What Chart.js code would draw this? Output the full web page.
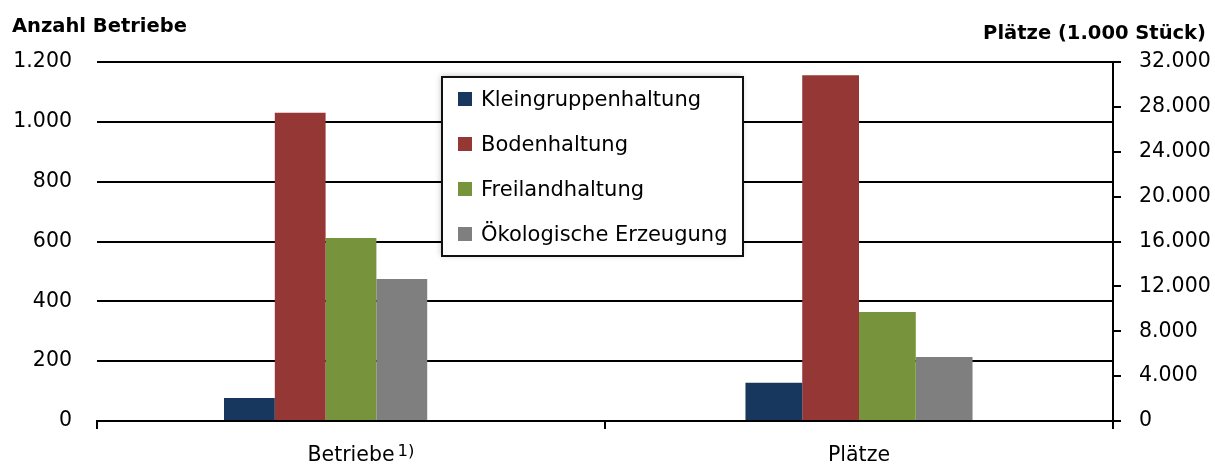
<!DOCTYPE html>
<html lang="de">
<head>
<meta charset="utf-8">
<title>Betriebe und Plätze nach Haltungsform</title>
<script src="https://cdn.jsdelivr.net/npm/chart.js@4.4.1/dist/chart.umd.min.js"></script>
<style>
  html, body { margin: 0; padding: 0; background: #fff; }
  #wrap { width: 1215px; height: 465px; position: relative; }
</style>
</head>
<body>
<div id="wrap"><canvas id="chart"></canvas></div>
<script>
// Daten
const kategorien = ['Betriebe', 'Plätze'];
const serien = ['Kleingruppenhaltung', 'Bodenhaltung', 'Freilandhaltung', 'Ökologische Erzeugung'];
const betriebe = [77, 1030, 612, 475];          // Anzahl Betriebe (linke Achse)
const plaetze = [3410, 30830, 9720, 5700];      // Plätze in 1.000 Stück (rechte Achse)
const farben = ['#17375E', '#953735', '#77933C', '#7F7F7F'];

const schrift = '"DejaVu Sans", Verdana, sans-serif';

function punkt(v) {
  return String(v).replace(/\B(?=(\d{3})+(?!\d))/g, '.');
}

// linke Serien nur bei "Betriebe", rechte nur bei "Plätze"
const datasets = [];
serien.forEach((s, i) => {
  datasets.push({
    label: s,
    data: [betriebe[i], null],
    backgroundColor: farben[i],
    yAxisID: 'y',
    categoryPercentage: 0.5,
    barPercentage: 1.0,
    skipNull: true
  });
});
// leerer Platz rechts neben der Betriebe-Gruppe (wie im Original)
datasets.push({
  label: '',
  data: [0, null],
  backgroundColor: 'rgba(0,0,0,0)',
  yAxisID: 'y',
  categoryPercentage: 0.5,
  barPercentage: 1.0,
  skipNull: true
});
serien.forEach((s, i) => {
  datasets.push({
    label: s + ' (Plätze)',
    data: [null, plaetze[i]],
    backgroundColor: farben[i],
    yAxisID: 'y1',
    categoryPercentage: 0.447,
    barPercentage: 1.0,
    skipNull: true
  });
});

// Achsentitel, Fußnotenzeichen und Legendenkasten
const extras = {
  id: 'extras',
  afterDraw(chart) {
    const c = chart.ctx;
    const a = chart.chartArea;
    c.save();
    c.fillStyle = '#000';
    c.textBaseline = 'alphabetic';
    c.font = 'bold 19.5px ' + schrift;
    c.textAlign = 'left';
    c.fillText('Anzahl Betriebe', 12, 32);
    c.textAlign = 'right';
    c.fillText('Plätze (1.000 Stück)', 1206, 39);

    // Fußnote an "Betriebe"
    const xs = chart.scales.x;
    c.font = '20.5px ' + schrift;
    const w = c.measureText(kategorien[0]).width;
    const px = xs.getPixelForValue(0) + w / 2 + 3;
    c.font = '16.5px ' + schrift;
    c.textAlign = 'left';
    c.fillText('1)', px, 456);

    // Legende
    const lx = a.left + 345, ly = a.top + 15, lw = 301, lh = 179;
    c.shadowColor = 'rgba(0,0,0,0.25)';
    c.shadowBlur = 6;
    c.shadowOffsetX = -1;
    c.shadowOffsetY = -1;
    c.fillStyle = '#fff';
    c.fillRect(lx, ly, lw, lh);
    c.shadowColor = 'transparent';
    c.strokeStyle = '#111';
    c.lineWidth = 2;
    c.strokeRect(lx, ly, lw, lh);
    c.font = '21px ' + schrift;
    c.textBaseline = 'alphabetic';
    serien.forEach((s, i) => {
      const y = ly + 29 + i * 45;
      c.fillStyle = farben[i];
      c.fillRect(lx + 16, y - 14, 14, 14);
      c.fillStyle = '#000';
      c.fillText(s, lx + 39, y);
    });
    c.restore();
  }
};

new Chart(document.getElementById('chart'), {
  type: 'bar',
  data: { labels: kategorien, datasets: datasets },
  plugins: [extras],
  options: {
    responsive: true,
    maintainAspectRatio: false,
    animation: false,
    layout: { padding: { top: 62, left: 0, right: 0, bottom: 0 } },
    plugins: {
      legend: { display: false },
      tooltip: { enabled: false }
    },
    scales: {
      x: {
        grid: {
          offset: true,
          drawOnChartArea: false,
          drawTicks: true,
          tickLength: 8,
          tickColor: '#000',
          lineWidth: 2
        },
        border: { display: true, color: '#000', width: 2 },
        ticks: {
          color: '#000',
          font: { family: schrift, size: 20.5 },
          padding: 14
        },
        afterFit(s) { s.height = 44; }
      },
      y: {
        position: 'left',
        min: 0,
        max: 1200,
        ticks: {
          stepSize: 200,
          color: '#000',
          font: { family: schrift, size: 20.5 },
          padding: 25,
          callback: (v) => punkt(v)
        },
        grid: { color: '#000', lineWidth: 2, drawTicks: false },
        border: { display: false },
        afterFit(s) { s.width = 97; }
      },
      y1: {
        position: 'right',
        min: 0,
        max: 32000,
        ticks: {
          stepSize: 4000,
          color: '#000',
          font: { family: schrift, size: 20.5 },
          padding: 18,
          callback: (v) => punkt(v)
        },
        grid: {
          drawOnChartArea: false,
          tickLength: 8,
          tickColor: '#000',
          lineWidth: 2
        },
        border: { display: true, color: '#000', width: 2 },
        afterFit(s) { s.width = 102; }
      }
    }
  }
});
</script>
</body>
</html>
